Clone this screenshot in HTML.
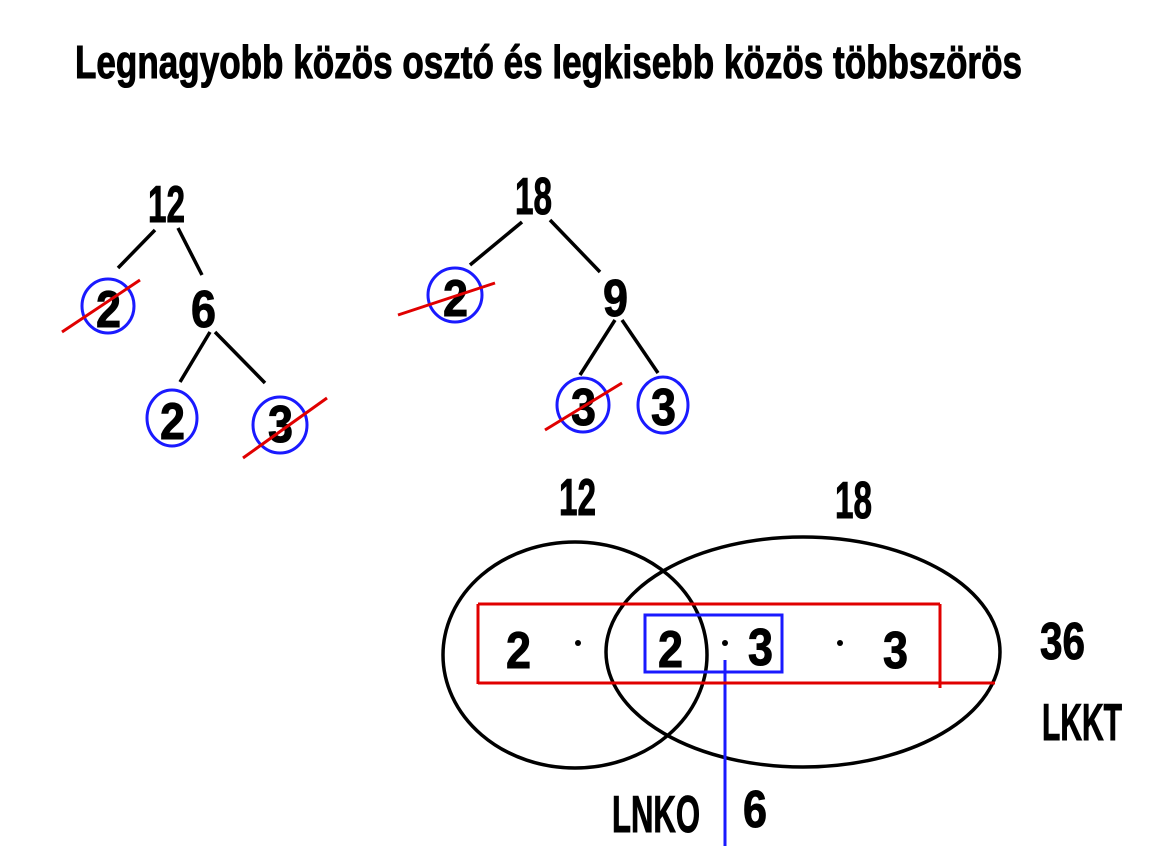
<!DOCTYPE html>
<html><head><meta charset="utf-8"><style>
html,body{margin:0;padding:0;background:#fff;}
svg{display:block}
text{font-family:"Liberation Sans Narrow","Liberation Sans",sans-serif;font-weight:bold;fill:#000;}
</style></head><body>
<svg width="1166" height="854" viewBox="0 0 1166 854" xmlns="http://www.w3.org/2000/svg">
<text x="75" y="78" font-size="46" textLength="947" lengthAdjust="spacingAndGlyphs" stroke="#000" stroke-width="1">Legnagyobb közös osztó és legkisebb közös többszörös</text>

<g stroke="#000" stroke-width="3.5" fill="none">
<line x1="155" y1="230" x2="118" y2="268"/>
<line x1="178" y1="228" x2="202" y2="275"/>
<line x1="210" y1="332" x2="180" y2="382"/>
<line x1="215" y1="332" x2="265" y2="383"/>
<line x1="522" y1="222" x2="470" y2="265"/>
<line x1="550" y1="220" x2="600" y2="272"/>
<line x1="615" y1="320" x2="580" y2="375"/>
<line x1="622" y1="320" x2="658" y2="373"/>
<ellipse cx="575" cy="655" rx="132" ry="113"/>
<ellipse cx="803" cy="652" rx="197" ry="115"/>
</g>

<g font-size="52" stroke="#000" stroke-width="1">
<text x="148" y="222" textLength="37" lengthAdjust="spacingAndGlyphs">12</text>
<text x="96" y="327" textLength="25" lengthAdjust="spacingAndGlyphs">2</text>
<text x="191" y="327" textLength="25" lengthAdjust="spacingAndGlyphs">6</text>
<text x="160" y="439" textLength="25" lengthAdjust="spacingAndGlyphs">2</text>
<text x="268" y="442" textLength="25" lengthAdjust="spacingAndGlyphs">3</text>
<text x="515" y="214" textLength="37" lengthAdjust="spacingAndGlyphs">18</text>
<text x="443" y="316" textLength="25" lengthAdjust="spacingAndGlyphs">2</text>
<text x="603" y="316" textLength="25" lengthAdjust="spacingAndGlyphs">9</text>
<text x="571" y="425" textLength="25" lengthAdjust="spacingAndGlyphs">3</text>
<text x="651" y="425" textLength="25" lengthAdjust="spacingAndGlyphs">3</text>
<text x="559" y="515" textLength="37" lengthAdjust="spacingAndGlyphs">12</text>
<text x="835" y="518" textLength="37" lengthAdjust="spacingAndGlyphs">18</text>
<text x="506" y="668" textLength="25" lengthAdjust="spacingAndGlyphs">2</text>
<text x="658" y="667" textLength="25" lengthAdjust="spacingAndGlyphs">2</text>
<text x="748" y="665" textLength="25" lengthAdjust="spacingAndGlyphs">3</text>
<text x="883" y="668" textLength="25" lengthAdjust="spacingAndGlyphs">3</text>
<text x="1040" y="659" textLength="45" lengthAdjust="spacingAndGlyphs">36</text>
<text x="1042" y="740" textLength="80" lengthAdjust="spacingAndGlyphs">LKKT</text>
<text x="612" y="832" textLength="88" lengthAdjust="spacingAndGlyphs">LNKO</text>
<text x="743" y="827" textLength="24" lengthAdjust="spacingAndGlyphs">6</text>
</g>
<g fill="#000">
<circle cx="578" cy="643" r="3"/>
<circle cx="725" cy="643" r="3"/>
<circle cx="840" cy="643" r="3"/>
</g>

<g stroke="#1a1aff" stroke-width="3" fill="none">
<ellipse cx="108" cy="306" rx="26" ry="27"/>
<ellipse cx="172" cy="418" rx="25" ry="28"/>
<ellipse cx="280" cy="425" rx="27" ry="28"/>
<ellipse cx="455" cy="295" rx="27" ry="27"/>
<ellipse cx="583" cy="405" rx="26" ry="27"/>
<ellipse cx="663" cy="405" rx="25" ry="28"/>
<rect x="645" y="615" width="137" height="57"/>
<line x1="725" y1="660" x2="725" y2="846"/>
</g>

<g stroke="#e00000" stroke-width="3" fill="none">
<line x1="62" y1="332" x2="140" y2="280"/>
<line x1="243" y1="458" x2="327" y2="398"/>
<line x1="398" y1="315" x2="495" y2="283"/>
<line x1="545" y1="430" x2="622" y2="383"/>
<line x1="478" y1="604" x2="940" y2="604"/>
<line x1="478" y1="604" x2="478" y2="684"/>
<line x1="478" y1="683" x2="995" y2="683"/>
<line x1="940" y1="604" x2="940" y2="688"/>
</g>
</svg>
</body></html>
